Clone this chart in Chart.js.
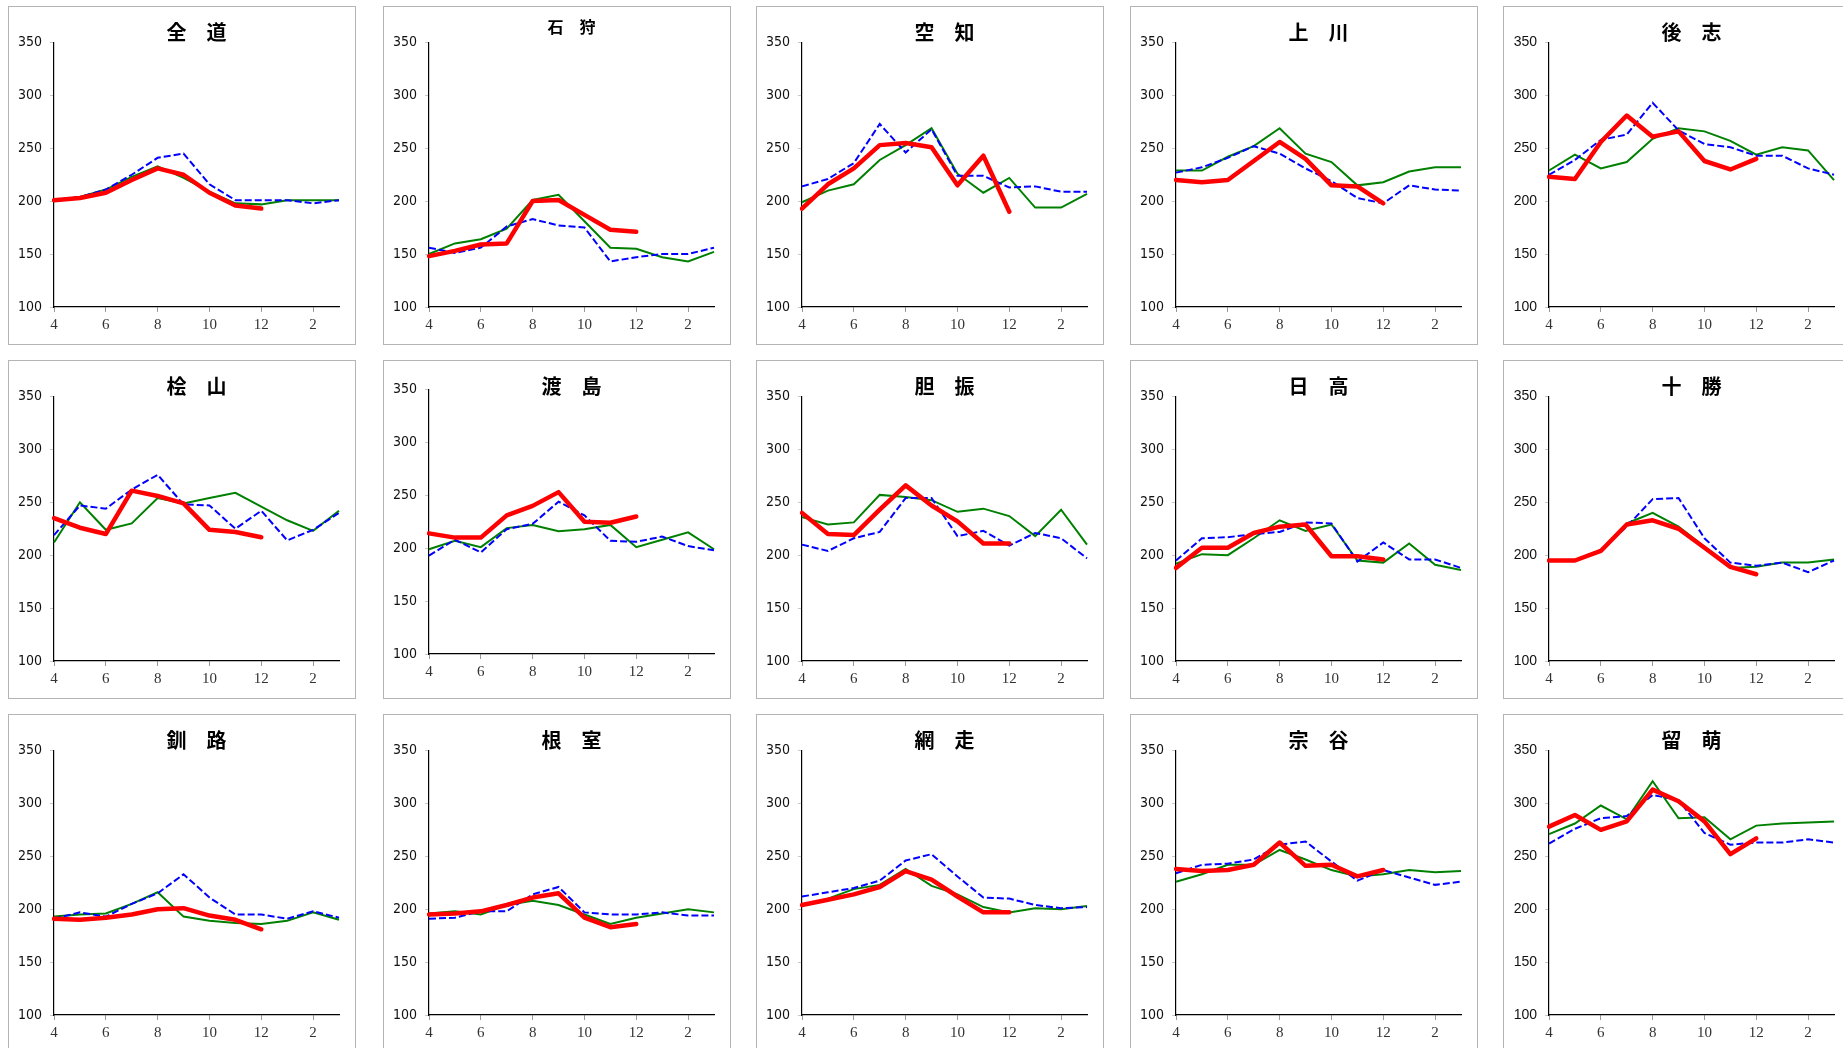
<!DOCTYPE html>
<html>
<head>
<meta charset="utf-8">
<script src="https://cdn.jsdelivr.net/npm/chart.js@4"></script>
<style>
html, body { margin: 0; padding: 0; background: #fff; overflow: hidden; width: 1843px; height: 1048px; }
.panel { position: absolute; width: 346px; height: 337px; border: 1px solid #b4b4b4; background: #fff; }
.panel canvas { position: absolute; left: 0; top: 0; }
</style>
</head>
<body>
<script>
// months Apr..Mar
const months = ['4','5','6','7','8','9','10','11','12','1','2','3'];
const yTicks = [100, 150, 200, 250, 300, 350];

// red = this year (Apr-Dec), blue dashed = last year, green = average
const zendoCur  = [201, 203, 208, 220, 231, 225, 208, 196, 193];
const zendoPrev = [201, 204, 211, 225, 241, 245, 216, 201, 201, 201, 198, 201];
const zendoAvg  = [201, 204, 211, 223, 233, 222, 209, 198, 197, 201, 201, 201];

const ishikariCur  = [148, 153, 159, 160, 200, 201, 187, 173, 171];
const ishikariPrev = [156, 151, 156, 176, 183, 177, 175, 143, 147, 150, 150, 156];
const ishikariAvg  = [150, 160, 164, 174, 201, 206, 181, 156, 155, 147, 143, 152];

const sorachiCur  = [193, 216, 231, 253, 255, 251, 215, 243, 190];
const sorachiPrev = [214, 221, 236, 273, 246, 268, 224, 224, 213, 214, 209, 209];
const sorachiAvg  = [199, 210, 216, 239, 253, 269, 226, 208, 222, 194, 194, 207];

const kamikawaCur  = [220, 218, 220, 238, 256, 240, 215, 214, 198];
const kamikawaPrev = [227, 232, 241, 252, 245, 231, 219, 203, 198, 215, 211, 210];
const kamikawaAvg  = [229, 229, 242, 252, 269, 245, 237, 215, 218, 228, 232, 232];

const shiribeshiCur  = [223, 221, 256, 281, 261, 266, 238, 230, 240];
const shiribeshiPrev = [225, 239, 258, 263, 293, 267, 254, 251, 243, 243, 231, 225];
const shiribeshiAvg  = [229, 244, 231, 237, 259, 269, 266, 257, 244, 251, 248, 220];

const hiyamaCur  = [235, 226, 220, 261, 256, 249, 224, 222, 217];
const hiyamaPrev = [219, 247, 244, 262, 276, 248, 247, 225, 242, 214, 224, 240];
const hiyamaAvg  = [212, 250, 224, 230, 254, 249, 254, 259, 246, 233, 223, 242];

const oshimaCur  = [214, 210, 210, 231, 240, 253, 225, 224, 230];
const oshimaPrev = [193, 208, 196, 218, 223, 244, 231, 207, 206, 211, 202, 198];
const oshimaAvg  = [199, 207, 201, 219, 222, 216, 218, 222, 201, 208, 215, 199];

const iburiCur  = [240, 220, 219, 243, 266, 247, 232, 211, 211];
const iburiPrev = [210, 204, 216, 222, 254, 254, 218, 223, 209, 221, 216, 197];
const iburiAvg  = [236, 229, 231, 257, 255, 252, 241, 244, 237, 218, 243, 210];

const hidakaCur  = [188, 207, 207, 221, 227, 229, 199, 199, 196];
const hidakaPrev = [195, 216, 217, 220, 222, 231, 230, 194, 212, 196, 196, 188];
const hidakaAvg  = [192, 201, 200, 216, 233, 223, 229, 195, 193, 211, 191, 186];

const tokachiCur  = [195, 195, 204, 229, 233, 225, 207, 189, 182];
const tokachiPrev = [195, 195, 205, 227, 253, 254, 216, 193, 190, 193, 184, 195];
const tokachiAvg  = [195, 195, 204, 230, 240, 227, 208, 188, 189, 193, 193, 196];

const kushiroCur  = [191, 190, 192, 195, 200, 201, 194, 190, 181];
const kushiroPrev = [191, 197, 193, 205, 215, 233, 211, 195, 195, 191, 198, 192];
const kushiroAvg  = [193, 195, 196, 205, 216, 193, 189, 187, 186, 189, 197, 190];

const nemuroCur  = [195, 196, 198, 204, 211, 215, 192, 183, 186];
const nemuroPrev = [191, 192, 198, 198, 214, 221, 197, 195, 195, 197, 194, 194];
const nemuroAvg  = [196, 198, 195, 204, 208, 204, 195, 186, 192, 196, 200, 197];

const abashiriCur  = [204, 209, 214, 221, 236, 228, 212, 197, 197];
const abashiriPrev = [212, 216, 220, 227, 246, 252, 231, 211, 210, 204, 201, 202];
const abashiriAvg  = [204, 210, 219, 223, 238, 222, 214, 202, 197, 201, 200, 203];

const soyaCur  = [238, 236, 237, 242, 263, 241, 242, 231, 237];
const soyaPrev = [234, 242, 243, 247, 261, 264, 245, 227, 237, 230, 223, 226];
const soyaAvg  = [226, 233, 242, 242, 256, 247, 237, 231, 233, 237, 235, 236];

const rumoiCur  = [278, 289, 275, 283, 313, 302, 283, 252, 267];
const rumoiPrev = [262, 276, 286, 288, 308, 303, 272, 261, 263, 263, 266, 263];
const rumoiAvg  = [271, 281, 298, 285, 321, 286, 287, 266, 279, 281, 282, 283];

const panels = [
    { title: '全\u3000道', cur: zendoCur, prev: zendoPrev, avg: zendoAvg },
    { title: '石\u3000狩', cur: ishikariCur, prev: ishikariPrev, avg: ishikariAvg, small: true },
    { title: '空\u3000知', cur: sorachiCur, prev: sorachiPrev, avg: sorachiAvg },
    { title: '上\u3000川', cur: kamikawaCur, prev: kamikawaPrev, avg: kamikawaAvg },
    { title: '後\u3000志', cur: shiribeshiCur, prev: shiribeshiPrev, avg: shiribeshiAvg },
    { title: '桧\u3000山', cur: hiyamaCur, prev: hiyamaPrev, avg: hiyamaAvg },
    { title: '渡\u3000島', cur: oshimaCur, prev: oshimaPrev, avg: oshimaAvg, lift: 7 },
    { title: '胆\u3000振', cur: iburiCur, prev: iburiPrev, avg: iburiAvg },
    { title: '日\u3000高', cur: hidakaCur, prev: hidakaPrev, avg: hidakaAvg },
    { title: '十\u3000勝', cur: tokachiCur, prev: tokachiPrev, avg: tokachiAvg },
    { title: '釧\u3000路', cur: kushiroCur, prev: kushiroPrev, avg: kushiroAvg },
    { title: '根\u3000室', cur: nemuroCur, prev: nemuroPrev, avg: nemuroAvg },
    { title: '網\u3000走', cur: abashiriCur, prev: abashiriPrev, avg: abashiriAvg },
    { title: '宗\u3000谷', cur: soyaCur, prev: soyaPrev, avg: soyaAvg },
    { title: '留\u3000萌', cur: rumoiCur, prev: rumoiPrev, avg: rumoiAvg }
];

const colLeft = [8, 383, 756, 1130, 1503];
const rowTop = [6, 360, 714];

panels.forEach((p, i) => {
    let col = i % 5, row = Math.floor(i / 5);
    let div = document.createElement('div');
    div.className = 'panel';
    div.style.left = colLeft[col] + 'px';
    div.style.top = rowTop[row] + 'px';
    let cv = document.createElement('canvas');
    cv.width = 346; cv.height = 337;
    cv.style.width = '346px'; cv.style.height = '337px';
    div.appendChild(cv);
    document.body.appendChild(div);

    let lift = p.lift || 0;
    let yFamily = col === 4 ? "'Liberation Sans', Arial, sans-serif"
                            : "'Liberation Sans Narrow', 'DejaVu Sans Condensed', 'Liberation Sans', sans-serif";
    let titleFont = p.small
        ? { family: "'Noto Sans CJK JP', sans-serif", size: 16, weight: 'bold' }
        : { family: "'Noto Sans CJK JP', sans-serif", size: 20, weight: 'bold' };
    let titlePad = p.small ? { top: 10, bottom: 6 } : { top: 13, bottom: -1.5 - lift };

    new Chart(cv, {
        type: 'line',
        data: {
            labels: months,
            datasets: [{
                data: p.cur,
                borderColor: '#ff0000',
                borderWidth: 4.5,
                borderJoinStyle: 'round',
                borderCapStyle: 'round',
                pointRadius: 0,
                tension: 0
            }, {
                data: p.prev,
                borderColor: '#0000ff',
                borderWidth: 2,
                borderDash: [7, 3],
                pointRadius: 0,
                tension: 0
            }, {
                data: p.avg,
                borderColor: '#008000',
                borderWidth: 2,
                pointRadius: 0,
                tension: 0
            }]
        },
        options: {
            responsive: false,
            animation: false,
            devicePixelRatio: 1,
            layout: {
                padding: { left: 0, right: 16, top: 0, bottom: lift }
            },
            plugins: {
                legend: { display: false },
                tooltip: { enabled: false },
                title: {
                    display: true,
                    text: p.title,
                    fullSize: false,
                    color: '#000',
                    font: titleFont,
                    padding: titlePad
                }
            },
            scales: {
                x: {
                    offset: false,
                    border: { color: '#000', width: 1.2 },
                    grid: {
                        drawOnChartArea: false,
                        tickLength: 5,
                        tickColor: c => c.index % 2 ? 'rgba(0,0,0,0)' : '#999'
                    },
                    ticks: {
                        autoSkip: false,
                        maxRotation: 0,
                        padding: 4,
                        color: '#333',
                        font: { family: "'Liberation Serif', serif", size: 15 },
                        callback: (v, idx) => idx % 2 ? '' : months[idx]
                    },
                    afterFit: s => { s.height = 37; }
                },
                y: {
                    min: 100,
                    max: 350,
                    border: { color: '#000', width: 1.2 },
                    grid: { drawOnChartArea: false, tickLength: 4, tickColor: '#c8c8c8' },
                    ticks: {
                        stepSize: 50,
                        padding: 8,
                        color: '#111',
                        font: { family: yFamily, size: 14 },
                        callback: v => yTicks.includes(v) ? v : ''
                    },
                    afterFit: s => { s.width = 45; }
                }
            }
        }
    });
});
</script>
</body>
</html>
